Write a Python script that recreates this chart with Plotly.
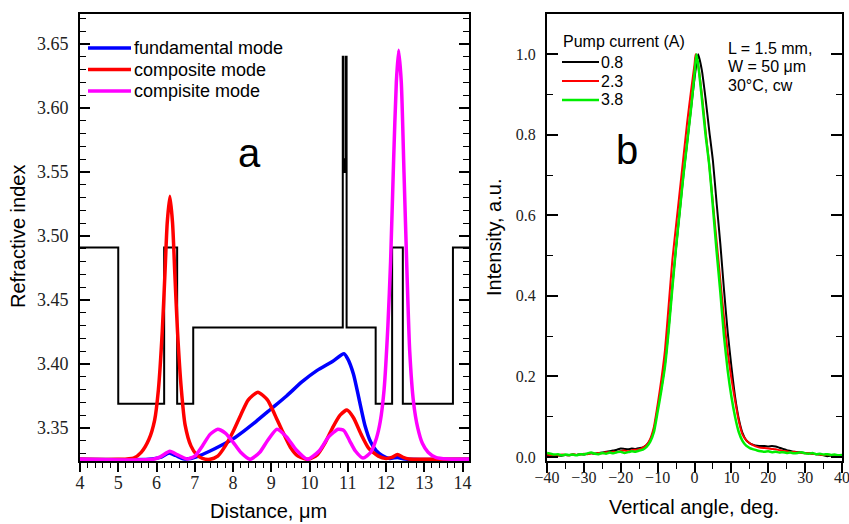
import plotly.graph_objects as go

# ---------------- Panel a: refractive index profile and modes ----------------
# layer boundaries (um) and refractive index of each layer (step profile)
layer_x = [4.0, 5.0, 6.2, 6.54, 6.96, 10.87, 10.885, 10.905, 10.925, 10.95, 10.97, 11.73, 12.16, 12.44, 13.75, 14.3]
layer_n = [3.491, 3.369, 3.491, 3.369, 3.4285, 3.64, 3.55, 3.56, 3.55, 3.64, 3.4285, 3.369, 3.491, 3.369, 3.491, 3.491]

fund_x = [4.0, 5.8, 6.1, 6.33, 6.5, 6.7, 6.9, 7.1, 7.4, 7.7, 8.0, 8.3, 8.6, 9.0, 9.4, 9.8, 10.2, 10.6, 10.9,
          11.0, 11.15, 11.3, 11.45, 11.6, 11.75, 11.9, 12.1, 12.3, 12.45, 12.6, 14.2]
fund_n = [3.3255, 3.3255, 3.327, 3.3305, 3.3285, 3.326, 3.3262, 3.328, 3.332, 3.3365, 3.3415, 3.348, 3.355, 3.365,
          3.375, 3.386, 3.395, 3.402, 3.408, 3.404, 3.392, 3.372, 3.352, 3.339, 3.332, 3.3285, 3.3262, 3.327, 3.326,
          3.3255, 3.3255]

comp1_x = [4.0, 5.0, 5.4, 5.6, 5.8, 5.95, 6.05, 6.15, 6.22, 6.28, 6.35, 6.42, 6.48, 6.55, 6.65, 6.75, 6.9, 7.05,
           7.2, 7.4, 7.6, 7.8, 8.0, 8.2, 8.4, 8.65, 8.9, 9.1, 9.3, 9.5, 9.7, 9.95, 10.2, 10.4, 10.6, 10.8, 10.98,
           11.15, 11.35, 11.55, 11.8, 12.0, 12.15, 12.3, 12.45, 12.6, 13.0, 14.2]
comp1_n = [3.3255, 3.3255, 3.3265, 3.331, 3.341, 3.356, 3.38, 3.425, 3.47, 3.51, 3.531, 3.51, 3.47, 3.425, 3.38,
           3.352, 3.336, 3.329, 3.3262, 3.3255, 3.328, 3.336, 3.347, 3.360, 3.372, 3.378, 3.372, 3.360, 3.347,
           3.335, 3.328, 3.3255, 3.329, 3.338, 3.350, 3.360, 3.364, 3.358, 3.345, 3.334, 3.328, 3.3262, 3.327,
           3.3292, 3.327, 3.3258, 3.3255, 3.3255]

comp2_x = [4.0, 5.9, 6.1, 6.35, 6.55, 6.8, 7.0, 7.2, 7.4, 7.6, 7.8, 8.0, 8.2, 8.45, 8.7, 8.9, 9.15, 9.4, 9.65,
           9.95, 10.25, 10.5, 10.75, 10.9, 11.05, 11.2, 11.4, 11.6, 11.75, 11.85, 11.95, 12.05, 12.12, 12.2,
           12.27, 12.33, 12.4, 12.47, 12.55, 12.62, 12.72, 12.83, 12.95, 13.1, 13.3, 13.6, 14.2]
comp2_n = [3.3255, 3.3255, 3.3275, 3.3318, 3.329, 3.3258, 3.328, 3.336, 3.345, 3.349, 3.346, 3.339, 3.331,
           3.3255, 3.331, 3.340, 3.349, 3.343, 3.333, 3.3255, 3.332, 3.343, 3.349, 3.348, 3.340, 3.332, 3.3265,
           3.331, 3.342, 3.355, 3.38, 3.43, 3.48, 3.56, 3.62, 3.645, 3.62, 3.55, 3.47, 3.41, 3.37, 3.35, 3.338,
           3.331, 3.327, 3.3257, 3.3255]

mode_names = ["fundamental mode", "composite mode", "compisite mode"]
mode_colors = ["#0000ff", "#ff0000", "#ff00ff"]

# ---------------- Panel b: far-field profiles ----------------
ang_08 = list(range(-40, 41))
int_08 = [0.004, 0.003, 0.005, 0.004, 0.003, 0.005, 0.004, 0.006, 0.005, 0.007, 0.006, 0.008, 0.009, 0.008,
          0.010, 0.011, 0.013, 0.014, 0.016, 0.018, 0.021, 0.020, 0.019, 0.021, 0.020, 0.022, 0.024, 0.030,
          0.042, 0.068, 0.120, 0.170, 0.232, 0.320, 0.425, 0.520, 0.610, 0.700, 0.780, 0.860, 0.940, 1.000,
          0.960, 0.890, 0.810, 0.735, 0.630, 0.530, 0.415, 0.310, 0.225, 0.150, 0.095, 0.060, 0.042, 0.034,
          0.030, 0.028, 0.027, 0.027, 0.026, 0.027, 0.026, 0.023, 0.020, 0.017, 0.015, 0.013, 0.012, 0.011,
          0.010, 0.009, 0.008, 0.007, 0.006, 0.004, 0.002, 0.003, 0.004, 0.004, 0.004]

ang_23 = list(range(-40, 1)) + [0.3] + list(range(1, 41))
int_23 = [0.006, 0.004, 0.005, 0.003, 0.006, 0.005, 0.004, 0.007, 0.005, 0.006, 0.008, 0.007, 0.009, 0.008,
          0.010, 0.009, 0.012, 0.011, 0.013, 0.012, 0.015, 0.016, 0.014, 0.017, 0.018, 0.019, 0.023, 0.030,
          0.045, 0.075, 0.130, 0.192, 0.266, 0.378, 0.490, 0.575, 0.660, 0.745, 0.830, 0.905, 0.975, 1.000,
          0.972, 0.900, 0.810, 0.725, 0.630, 0.535, 0.440, 0.345, 0.260, 0.195, 0.140, 0.090, 0.056, 0.042,
          0.034, 0.029, 0.025, 0.023, 0.022, 0.021, 0.020, 0.019, 0.017, 0.015, 0.014, 0.012, 0.013, 0.011,
          0.010, 0.009, 0.010, 0.008, 0.007, 0.006, 0.005, 0.006, 0.004, 0.003, 0.002, 0.002]

ang_38 = list(range(-40, 1)) + [0.5] + list(range(1, 41))
int_38 = [0.010, 0.008, 0.006, 0.007, 0.004, 0.006, 0.005, 0.006, 0.004, 0.007, 0.006, 0.009, 0.011, 0.008,
          0.007, 0.010, 0.008, 0.011, 0.009, 0.012, 0.013, 0.010, 0.012, 0.014, 0.013, 0.016, 0.018, 0.025,
          0.038, 0.062, 0.112, 0.165, 0.225, 0.315, 0.420, 0.520, 0.610, 0.700, 0.780, 0.860, 0.950, 1.000,
          0.975, 0.890, 0.800, 0.725, 0.620, 0.510, 0.410, 0.300, 0.215, 0.150, 0.100, 0.062, 0.040, 0.028,
          0.022, 0.019, 0.016, 0.014, 0.013, 0.014, 0.012, 0.013, 0.011, 0.012, 0.010, 0.011, 0.009, 0.010,
          0.012, 0.009, 0.008, 0.010, 0.007, 0.008, 0.006, 0.007, 0.005, 0.006, 0.004, 0.005]

pump_labels = ["0.8", "2.3", "3.8"]
pump_colors = ["#000000", "#ff0000", "#00ee00"]
pump_widths = [2, 2, 2.5]

# ---------------- figure ----------------
SANS = "Liberation Sans"
SERIF = "'Times New Roman', 'Liberation Serif', 'DejaVu Serif', serif"
W, H = 849, 524

fig = go.Figure()

fig.add_trace(go.Scatter(x=layer_x, y=layer_n, mode="lines", line=dict(color="black", width=2, shape="hv"),
                         showlegend=False, xaxis="x", yaxis="y"))
for xs, ys, name, col in zip([fund_x, comp1_x, comp2_x], [fund_n, comp1_n, comp2_n], mode_names, mode_colors):
    fig.add_trace(go.Scatter(x=xs, y=ys, mode="lines", name=name, showlegend=False,
                             line=dict(color=col, width=3.5, shape="spline", smoothing=0.6),
                             xaxis="x", yaxis="y"))

for xs, ys, name, col, w in zip([ang_08, ang_23, ang_38], [int_08, int_23, int_38], pump_labels,
                                pump_colors, pump_widths):
    fig.add_trace(go.Scatter(x=xs, y=ys, mode="lines", name=name, showlegend=False,
                             line=dict(color=col, width=w, shape="spline", smoothing=0.5),
                             xaxis="x2", yaxis="y2"))

ydom = [1 - 461 / H, 1 - 14 / H]
axis_common = dict(showline=True, linecolor="black", linewidth=2, showgrid=False, zeroline=False,
                   tickcolor="black", tickwidth=1.5)

fig.update_layout(
    width=W, height=H, margin=dict(l=0, r=0, t=0, b=0, autoexpand=False),
    paper_bgcolor="white", plot_bgcolor="white", showlegend=False,
    xaxis=dict(domain=[80 / W, 469 / W], range=[4, 14.17], tickmode="linear", tick0=4, dtick=1,
               ticks="outside", ticklen=9, mirror=True, anchor="y",
               minor=dict(dtick=0.2, ticks="outside", ticklen=5, tickcolor="black", tickwidth=1.2),
               tickfont=dict(family=SERIF, size=18, color="#222"), ticklabelstandoff=-5, **axis_common),
    yaxis=dict(domain=ydom, range=[3.3242, 3.6734], tickmode="linear", tick0=3.35, dtick=0.05,
               tickformat=".2f", ticks="inside", ticklen=10, mirror="ticks", anchor="x",
               minor=dict(dtick=0.01, ticks="inside", ticklen=6, tickcolor="black", tickwidth=1.2),
               tickfont=dict(family=SERIF, size=18, color="#222"), ticklabelstandoff=6, **axis_common),
    xaxis2=dict(domain=[547 / W, 842 / W], range=[-40, 40], tickmode="linear", tick0=-40, dtick=10,
                ticks="outside", ticklen=10, mirror=True, anchor="y2", ticklabeloverflow="allow",
                minor=dict(dtick=5, ticks="outside", ticklen=6, tickcolor="black", tickwidth=1.2),
                tickfont=dict(family=SERIF, size=16, color="#222"), ticklabelstandoff=-9, **axis_common),
    yaxis2=dict(domain=ydom, range=[-0.01, 1.1], tickmode="linear", tick0=0, dtick=0.2, tickformat=".1f",
                ticks="inside", ticklen=11, mirror="ticks", anchor="x2",
                minor=dict(dtick=0.1, ticks="inside", ticklen=6, tickcolor="black", tickwidth=1.2),
                tickfont=dict(family=SERIF, size=16, color="#222"), ticklabelstandoff=6, **axis_common),
)


def px_x(p):
    return p / W


def px_y(p):
    return 1 - p / H


ann = [
    dict(text="Refractive index", x=18, y=237, textangle=-90, size=20),
    dict(text="Distance, μm", x=268, y=511, size=20),
    dict(text="Intensity, a.u.", x=494, y=238, textangle=-90, size=20),
    dict(text="Vertical angle, deg.", x=694, y=507, size=20),
    dict(text="a", x=250, y=153, size=40),
    dict(text="b", x=627, y=150, size=40),
    dict(text="L = 1.5 mm,", x=727, y=48, xanchor="left", size=16),
    dict(text="W = 50 μm", x=727, y=66.5, xanchor="left", size=16),
    dict(text="30°C, cw", x=727, y=85, xanchor="left", size=16),
    dict(text="Pump current (A)", x=562, y=42, xanchor="left", size=16),
]

# legend of panel a (drawn as key lines + labels)
for i, (name, col) in enumerate(zip(mode_names, mode_colors)):
    yy = 48 + 21.5 * i
    fig.add_shape(type="line", xref="paper", yref="paper", x0=px_x(88), x1=px_x(131), y0=px_y(yy), y1=px_y(yy),
                  line=dict(color=col, width=3.5))
    ann.append(dict(text=name, x=133, y=yy, xanchor="left", size=18))

# legend of panel b
for i, (name, col, w) in enumerate(zip(pump_labels, pump_colors, pump_widths)):
    yy = 62 + 19 * i
    fig.add_shape(type="line", xref="paper", yref="paper", x0=px_x(562), x1=px_x(599), y0=px_y(yy), y1=px_y(yy),
                  line=dict(color=col, width=w))
    ann.append(dict(text=name, x=600, y=yy, xanchor="left", size=16))

for a in ann:
    size = a.pop("size")
    a["x"] = px_x(a["x"])
    a["y"] = px_y(a["y"])
    a.setdefault("xanchor", "center")
    a.setdefault("yanchor", "middle")
    fig.add_annotation(xref="paper", yref="paper", showarrow=False, borderpad=0,
                       font=dict(family=SANS, color="black", size=size), **a)

fig.write_html("out.html",
               post_script="document.body.style.margin='0';document.body.style.overflow='hidden';")
